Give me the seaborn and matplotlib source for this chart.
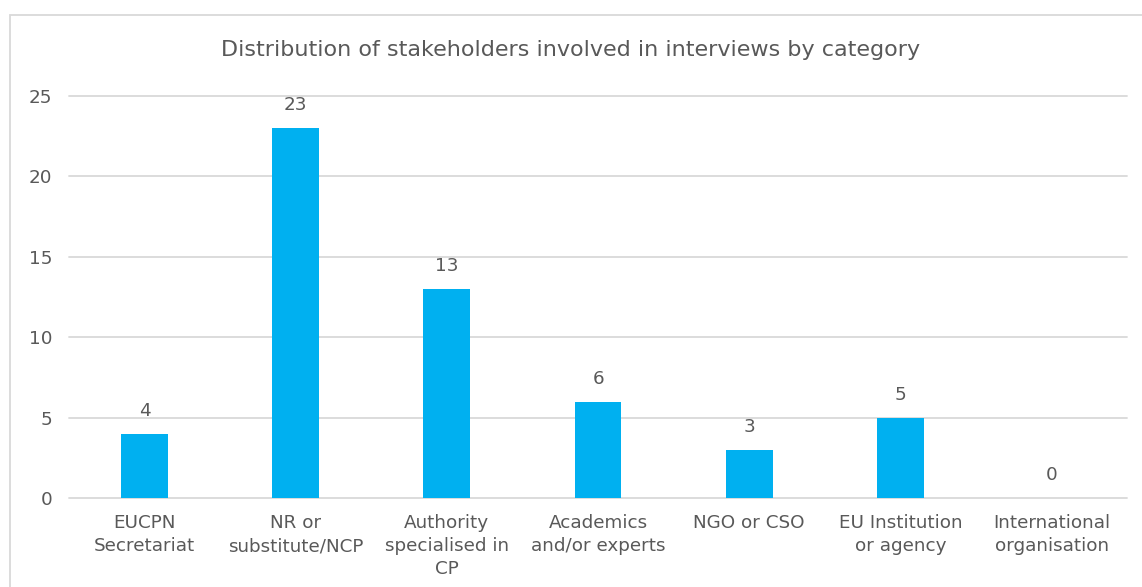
import matplotlib
matplotlib.use("Agg")
import matplotlib.pyplot as plt
import seaborn as sns
import pandas as pd

categories = [
    "EUCPN\nSecretariat",
    "NR or\nsubstitute/NCP",
    "Authority\nspecialised in\nCP",
    "Academics\nand/or experts",
    "NGO or CSO",
    "EU Institution\nor agency",
    "International\norganisation",
]
counts = [4, 23, 13, 6, 3, 5, 0]
y_ticks = [0, 5, 10, 15, 20, 25]

df = pd.DataFrame({"category": categories, "count": counts})

sns.set_theme(style="white")
plt.rcParams["font.family"] = ["DejaVu Sans"]
plt.rcParams["font.sans-serif"] = ["DejaVu Sans"]
text_color = "#595959"
fam = "DejaVu Sans"
fs = 13.2

fig = plt.figure(figsize=(11.42, 5.87), dpi=100)
ax = fig.add_axes([0.0604, 0.1516, 0.9266, 0.6849])

sns.barplot(data=df, x="category", y="count", color="#00B0F0",
            width=0.31, saturation=1, linewidth=0, ax=ax)

ax.set_ylim(0, 25)
ax.set_xlim(-0.5, len(categories) - 0.5)
ax.set_yticks(y_ticks)
ax.yaxis.grid(True, color="#D9D9D9", linewidth=1.3)
for gl in ax.yaxis.get_gridlines():
    gl.set_clip_on(False)
ax.set_axisbelow(True)
for s in ax.spines.values():
    s.set_visible(False)
ax.tick_params(axis="both", length=0, labelsize=fs, colors=text_color)
ax.tick_params(axis="y", pad=12)
ax.tick_params(axis="x", pad=11.5)
for lbl in ax.get_xticklabels() + ax.get_yticklabels():
    lbl.set_fontfamily(fam)
for lbl in ax.get_xticklabels():
    lbl.set_linespacing(1.36)
ax.set_xlabel("")
ax.set_ylabel("")

for c in ax.containers:
    ax.bar_label(c, labels=[str(v) for v in counts], padding=10,
                 fontsize=fs, color=text_color, fontfamily=fam)

fig.text(0.5, 1 - 50 / 587, "Distribution of stakeholders involved in interviews by category",
         ha="center", va="center", fontsize=16, color=text_color, fontfamily=fam)

# chart border
border = plt.Rectangle((10 / 1142, -0.1), 1.2, 1 - 15 / 587 + 0.1,
                       transform=fig.transFigure, fill=False,
                       edgecolor="#D9D9D9", linewidth=1.3)
fig.patches.append(border)

fig.savefig("out.png", dpi=100)
